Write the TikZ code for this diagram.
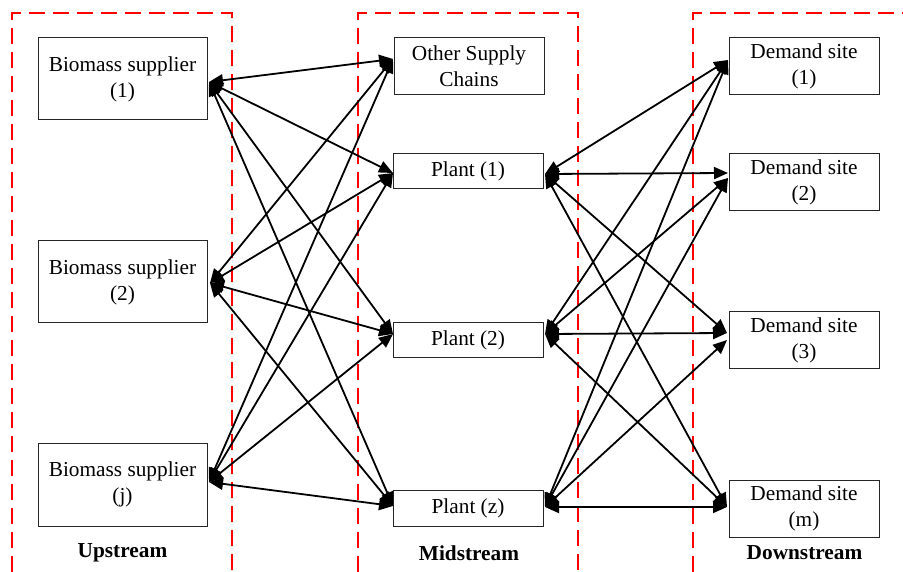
\documentclass[tikz,border=0pt]{standalone}
\usepackage{fontspec}
\setmainfont{Liberation Serif}
\usetikzlibrary{arrows.meta}
\begin{document}
\begin{tikzpicture}[x=1pt,y=-1pt,
  box/.style={draw=black!85,line width=1pt,fill=white,align=center,inner sep=0pt,
    font=\fontsize{21.3}{26}\selectfont},
  lbl/.style={font=\fontsize{21.3}{25}\selectfont\bfseries},
  frame/.style={draw=red,line width=2.4pt,dash pattern=on 16pt off 8pt},
  link/.style={line width=1.8pt,{Triangle[length=14pt,width=12pt]}-{Triangle[length=14pt,width=12pt]}}]
\useasboundingbox (0,0) rectangle (903,572);
% frames
\draw[frame] (12,572) -- (12,13) -- (232,13) -- (232,572);
\draw[frame] (358,572) -- (358,13) -- (578,13) -- (578,572);
\draw[frame] (693,572) -- (693,13) -- (903,13);
% nodes
\node[box,minimum width=169pt,minimum height=82pt] (s1) at (122.5,79) {Biomass supplier\\(1)};
\node[box,minimum width=169pt,minimum height=82pt] (s2) at (122.5,282) {Biomass supplier\\(2)};
\node[box,minimum width=169pt,minimum height=83pt] (sj) at (122.5,484.5) {Biomass supplier\\(j)};
\node[box,minimum width=150pt,minimum height=57pt] (osc) at (469,66.5) {Other Supply\\Chains};
\node[box,minimum width=150pt,minimum height=35pt] (p1) at (468,171.5) {Plant (1)};
\node[box,minimum width=150pt,minimum height=34pt] (p2) at (468,340) {Plant (2)};
\node[box,minimum width=150pt,minimum height=36pt] (pz) at (468,508) {Plant (z)};
\node[box,minimum width=150pt,minimum height=57pt] (d1) at (804,66.5) {Demand site\\(1)};
\node[box,minimum width=150pt,minimum height=57pt] (d2) at (804,182.5) {Demand site\\(2)};
\node[box,minimum width=150pt,minimum height=56pt] (d3) at (804,340) {Demand site\\(3)};
\node[box,minimum width=150pt,minimum height=57pt] (dm) at (804,508.5) {Demand site\\(m)};
\node[lbl] (up) at (122.5,553) {Upstream};
\node[lbl] (mid) at (469,553) {Midstream};
\node[lbl] (down) at (804.5,553) {Downstream};
% connection points
\coordinate (s1r) at (209,82);
\coordinate (s2r) at (210,283);
\coordinate (sjr) at (209,482);
\coordinate (oscl) at (393,59);
\coordinate (p1l) at (393,173);
\coordinate (p1r) at (545,174);
\coordinate (p2l) at (393,334);
\coordinate (p2r) at (545,334);
\coordinate (pzl) at (393,506);
\coordinate (pzr) at (545,507);
\coordinate (d1l) at (728,60);
\coordinate (d2a) at (728,173);
\coordinate (d2b) at (728,178);
\coordinate (d3a) at (727,333);
\coordinate (d3b) at (727,340);
\coordinate (dml) at (727,507);
% links upstream - midstream
\foreach \s in {s1r,s2r,sjr}
  \foreach \t in {oscl,p1l,p2l,pzl}
    \draw[link] (\s) -- (\t);
% links midstream - downstream
\foreach \t in {d1l,d2a,d3a,dml} \draw[link] (p1r) -- (\t);
\foreach \t in {d1l,d2b,d3a,dml} \draw[link] (p2r) -- (\t);
\foreach \t in {d1l,d2b,d3b,dml} \draw[link] (pzr) -- (\t);
\end{tikzpicture}
\end{document}
